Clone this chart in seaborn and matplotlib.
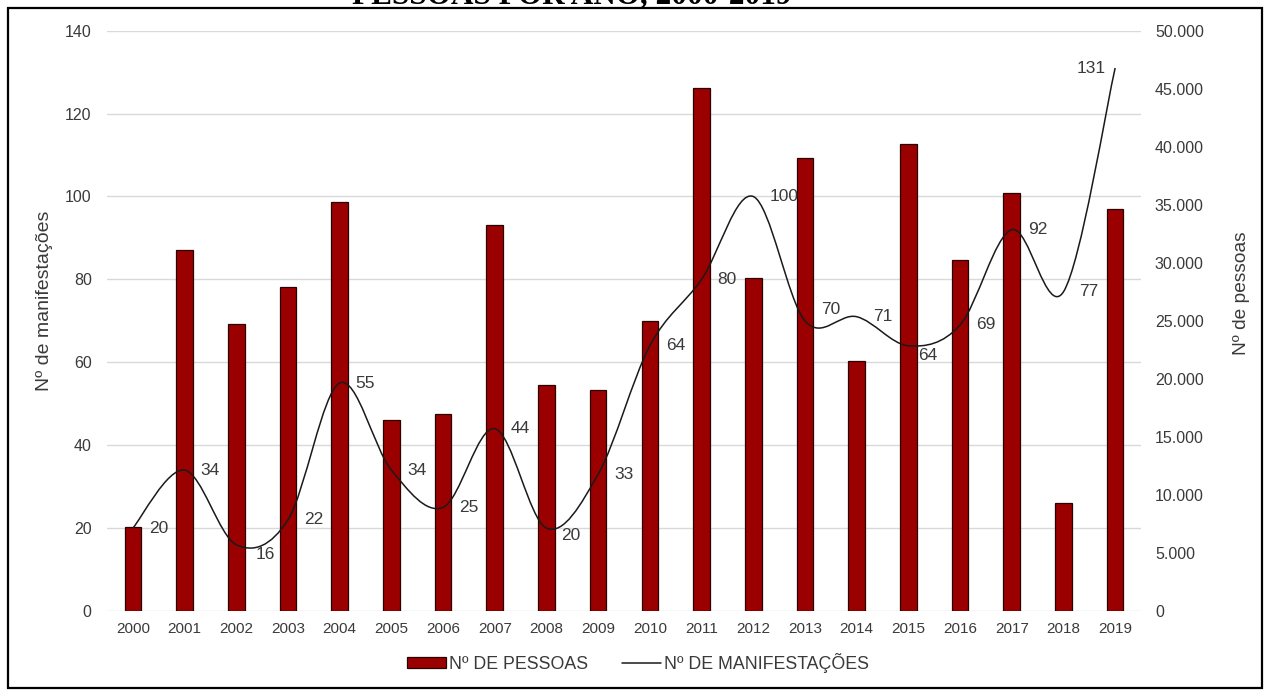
import numpy as np
import matplotlib
matplotlib.use("Agg")
import matplotlib.pyplot as plt
import seaborn as sns
from matplotlib.path import Path
from matplotlib.patches import PathPatch, Rectangle, Patch
from matplotlib.lines import Line2D
from matplotlib.ticker import FuncFormatter, MultipleLocator

# ---------------- data ----------------
years = [str(y) for y in range(2000, 2020)]
pessoas = [7200, 31100, 24750, 27900, 35200, 16500, 16950, 33300, 19500, 19000,
           24950, 45100, 28700, 39000, 21500, 40250, 30200, 36050, 9300, 34650]
manifestacoes = [20, 34, 16, 22, 55, 34, 25, 44, 20, 33,
                 64, 80, 100, 70, 71, 64, 69, 92, 77, 131]

title_text = "PESSOAS POR ANO, 2000-2019"
bar_label = "Nº DE PESSOAS"
line_label = "Nº DE MANIFESTAÇÕES"
left_ylabel = "Nº de manifestações"
right_ylabel = "Nº de pessoas"

# ---------------- style ----------------
sns.set_theme(style="white")
plt.rcParams["font.family"] = ["Liberation Sans", "DejaVu Sans"]
TXT = "#3a3a3a"
BAR = "#9b0000"

W, H = 1267, 690
fig = plt.figure(figsize=(W / 100, H / 100), dpi=100)
fig.patch.set_facecolor("white")

x0, x1, ytop, ybot = 107, 1141, 30.7, 611
rect = [x0 / W, 1 - ybot / H, (x1 - x0) / W, (ybot - ytop) / H]

# grid axis (left scale)
ax = fig.add_axes(rect)
ax.set_ylim(0, 140)
ax.yaxis.set_major_locator(MultipleLocator(20))
ax.grid(axis="y", color="#d9d9d9", linewidth=1.0)
ax.grid(axis="x", visible=False)
for s in ax.spines.values():
    s.set_visible(False)
ax.tick_params(axis="y", length=0, pad=11, labelsize=11.5, labelcolor=TXT)
ax.set_ylabel(left_ylabel, fontsize=14, color=TXT)
ax.yaxis.set_label_coords(-0.052, 0.534)

# bars (right scale)
ax2 = ax.twinx()
sns.barplot(x=years, y=pessoas, ax=ax2, color=BAR, saturation=1, width=0.32,
            edgecolor="#2a0000", linewidth=0.9)
ax2.set_xlim(-0.5, len(years) - 0.5)
ax2.set_ylim(0, 50000)
ax2.yaxis.set_major_locator(MultipleLocator(5000))
ax2.yaxis.set_major_formatter(FuncFormatter(lambda v, p: f"{int(v):,}".replace(",", ".")))
ax2.grid(False)
for s in ax2.spines.values():
    s.set_visible(False)
ax2.tick_params(axis="y", length=0, pad=10, labelsize=11.5, labelcolor=TXT)
ax2.set_xlabel("")
ax2.set_ylabel(right_ylabel, fontsize=13.8, color=TXT)
ax2.yaxis.set_label_position("right")
ax2.yaxis.set_label_coords(1.089, 0.548)
ax.set_xlim(ax2.get_xlim())
ax.set_xticks(range(len(years)))
ax.set_xticklabels(years)
ax.tick_params(axis="x", length=0, pad=8, labelsize=11, labelcolor=TXT)
ax2.tick_params(axis="x", length=0, labelbottom=False)

# line (left scale), smoothed
ax3 = ax.twinx()
ax3.set_ylim(0, 140)
ax3.set_xlim(ax2.get_xlim())
ax3.axis("off")
xs = np.arange(len(years), dtype=float)
ys = np.array(manifestacoes, dtype=float)
pts = np.column_stack([xs, ys])
verts = [tuple(pts[0])]
codes = [Path.MOVETO]
n = len(pts)
for i in range(n - 1):
    p0 = pts[i - 1] if i > 0 else pts[i]
    p1 = pts[i]
    p2 = pts[i + 1]
    p3 = pts[i + 2] if i + 2 < n else pts[i + 1]
    c1 = p1 + (p2 - p0) / 6.0
    c2 = p2 - (p3 - p1) / 6.0
    verts += [tuple(c1), tuple(c2), tuple(p2)]
    codes += [Path.CURVE4] * 3
ax3.add_patch(PathPatch(Path(verts, codes), facecolor="none", edgecolor="#1a1a1a",
                        linewidth=1.1, transform=ax3.transData, clip_on=False))

# data labels (offsets in pixels)
special = {2: (19, -10, "left"), 8: (15, -7, "left"), 13: (16, 11, "left"),
           15: (10, -10, "left"), 19: (-9, 0, "right")}
for i, v in enumerate(manifestacoes):
    dx, dy, ha = special.get(i, (16, 0, "left"))
    ax3.annotate(str(v), (xs[i], v), xytext=(dx * 0.72, dy * 0.72),
                 textcoords="offset points", ha=ha, va="center",
                 fontsize=12.5, color=TXT, annotation_clip=False)

# legend
handles = [Patch(facecolor=BAR, edgecolor="#2a0000", linewidth=0.9),
           Line2D([0], [0], color="#1a1a1a", linewidth=1.1)]
fig.legend(handles, [bar_label, line_label], loc="center",
           bbox_to_anchor=(638 / W, 1 - 663 / H), ncol=2, frameon=False,
           fontsize=12.8, handlelength=2.2, handleheight=0.55, handletextpad=0.15,
           columnspacing=1.9, labelcolor=TXT)

# outer frame and clipped title
fig.patches.append(Rectangle((8 / W, 2 / H), (1262 - 8) / W, (682 - 2) / H,
                             transform=fig.transFigure, fill=False,
                             edgecolor="black", linewidth=1.6))
fig.text(572 / W, 1 - 3 / H, title_text, ha="center", va="baseline",
         fontsize=22.5, fontweight="bold", family=["Liberation Serif", "DejaVu Serif"],
         color="black")

fig.savefig("out.png", dpi=100)
